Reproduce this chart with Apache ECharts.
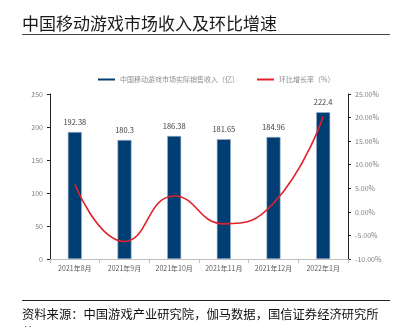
<!DOCTYPE html>
<html><head><meta charset="utf-8">
<script src="https://cdn.jsdelivr.net/npm/echarts@6/dist/echarts.min.js"></script>
<style>html,body{margin:0;padding:0;background:#fff}#c{width:398px;height:327px}</style>
</head><body><div id="c"></div>
<script>
const categories = ['2021年8月','2021年9月','2021年10月','2021年11月','2021年12月','2022年1月'];
const revenue = [192.38, 180.3, 186.38, 181.65, 184.96, 222.4];
const growth = [5.8, -6.28, 3.37, -2.54, 1.82, 20.24];
const leftTicks = {min:0, max:250, interval:50};
const rightTicks = {min:-10, max:25, interval:5};
const FONT = '"Noto Sans CJK SC", "Noto Sans", sans-serif';

const chart = echarts.init(document.getElementById('c'), null, {renderer:'canvas'});
chart.setOption({
  animation:false,
  textStyle:{fontFamily:FONT},
  grid:{left:50, right:50, top:94, bottom:68},
  legend:{
    left:93, top:71, itemWidth:17, itemHeight:2, itemGap:18,
    textStyle:{fontSize:7, color:'#8c8c8c', fontFamily:FONT},
    data:[
      {name:'中国移动游戏市场实际销售收入（亿）', icon:'rect', itemStyle:{color:'#003e73', borderWidth:0}},
      {name:'环比增长率（%）', icon:'rect', itemStyle:{color:'#e3202b', borderWidth:0}}
    ]
  },
  xAxis:{
    type:'category', data:categories,
    axisLine:{lineStyle:{color:'#bfbfbf', width:1}},
    axisTick:{show:true, alignWithLabel:false, length:4, lineStyle:{color:'#bfbfbf'}},
    axisLabel:{fontSize:7, color:'#595959', margin:6, fontFamily:FONT}
  },
  yAxis:[{
    type:'value', min:leftTicks.min, max:leftTicks.max, interval:leftTicks.interval,
    splitLine:{show:false},
    axisLine:{show:true, lineStyle:{color:'#222', width:1}},
    axisTick:{show:true, length:3, lineStyle:{color:'#222'}},
    axisLabel:{fontSize:7, color:'#7f7f7f', margin:7, fontFamily:FONT}
  },{
    type:'value', min:rightTicks.min, max:rightTicks.max, interval:rightTicks.interval,
    splitLine:{show:false},
    axisLine:{show:true, lineStyle:{color:'#222', width:1}},
    axisTick:{show:true, length:3, lineStyle:{color:'#222'}},
    axisLabel:{fontSize:7, color:'#7f7f7f', margin:7, fontFamily:FONT,
      formatter:v=>v.toFixed(2)+'%'}
  }],
  series:[{
    name:'中国移动游戏市场实际销售收入（亿）', type:'bar', data:revenue, barWidth:14,
    itemStyle:{color:'#003e73', borderColor:'#9fb4c8', borderWidth:0.6},
    label:{show:true, position:'top', distance:6, fontSize:7.5, color:'#404040', fontFamily:FONT}
  },{
    name:'环比增长率（%）', type:'line', yAxisIndex:1, data:growth, smooth:0.5,
    showSymbol:false, symbol:'none',
    lineStyle:{color:'#e3202b', width:1.6}, itemStyle:{color:'#e3202b'}
  }],
  graphic:[
    {type:'text', left:22, top:15, style:{text:'中国移动游戏市场收入及环比增速', fontSize:17, fill:'#1a1a1a', fontFamily:FONT}},
    {type:'line', shape:{x1:22, y1:34.5, x2:390, y2:34.5}, style:{stroke:'#444', lineWidth:1}},
    {type:'line', shape:{x1:22, y1:300.5, x2:390, y2:300.5}, style:{stroke:'#222', lineWidth:1}},
    {type:'text', left:22, top:305, style:{text:'资料来源：中国游戏产业研究院，伽马数据，国信证券经济研究所\n整理', fontSize:12.3, lineHeight:18, fill:'#111', fontFamily:FONT}}
  ]
});
</script></body></html>
